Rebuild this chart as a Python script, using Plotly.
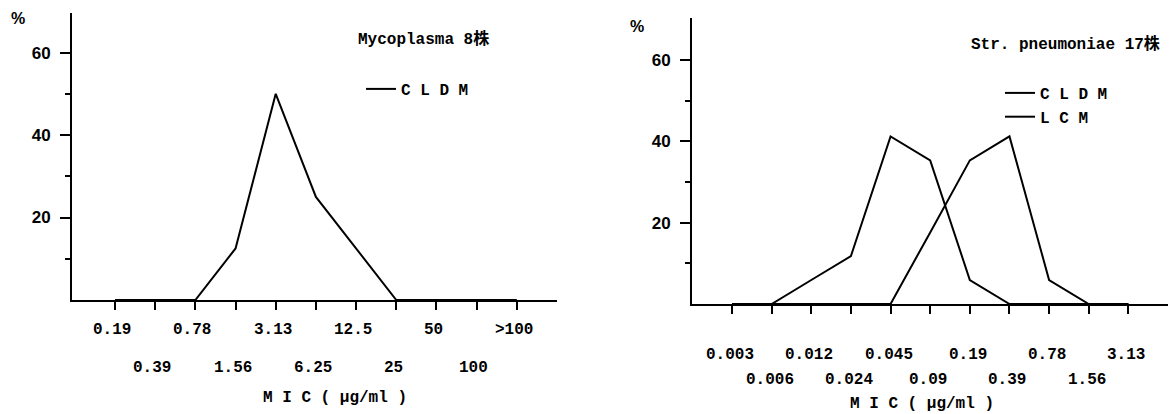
import plotly.graph_objects as go

# ---- data ----
left_cats = ["0.19", "0.39", "0.78", "1.56", "3.13", "6.25", "12.5", "25", "50", "100", ">100"]
left_cldm = [0, 0, 0, 12.5, 50, 25, 12.5, 0, 0, 0, 0]

right_cats = ["0.003", "0.006", "0.012", "0.024", "0.045", "0.09", "0.19", "0.39", "0.78", "1.56", "3.13"]
right_cldm = [0, 0, 5.9, 11.8, 41.2, 35.3, 5.9, 0, 0, 0, 0]
right_lcm = [0, 0, 0, 0, 0, 17.6, 35.3, 41.2, 5.9, 0, 0]

y_major = [20, 40, 60]
y_minor = [10, 30, 50]

left_title = "Mycoplasma 8株"
right_title = "Str. pneumoniae 17株"
x_title = "M I C ( μg/ml )"
y_unit = "%"
name_cldm = "C L D M"
name_lcm = "L C M"

W, H = 1171, 414
MONO = "Liberation Mono, Courier New, Noto Sans CJK JP, monospace"
SANS = "Liberation Sans, Arial, sans-serif"


def py(pix):
    return 1 - pix / H


fig = go.Figure()
line = dict(color="black", width=2)
fig.add_trace(go.Scatter(x=left_cats, y=left_cldm, mode="lines", line=line,
                         name=name_cldm, xaxis="x", yaxis="y", legend="legend"))
fig.add_trace(go.Scatter(x=right_cats, y=right_cldm, mode="lines", line=line,
                         name=name_cldm, xaxis="x2", yaxis="y2", legend="legend2"))
fig.add_trace(go.Scatter(x=right_cats, y=right_lcm, mode="lines", line=line,
                         name=name_lcm, xaxis="x2", yaxis="y2", legend="legend2"))

xcommon = dict(type="category", showline=True, linewidth=2, linecolor="black",
               ticks="outside", ticklen=8, tickwidth=1.5, tickcolor="black",
               showticklabels=False, showgrid=False, zeroline=False, fixedrange=True)
ycommon = dict(showline=True, linewidth=2, linecolor="black",
               tickmode="array", tickvals=y_major, ticks="outside", ticklen=10,
               tickwidth=2, tickcolor="black", ticklabelstandoff=6,
               tickfont=dict(family=SANS, size=17, color="black", weight="bold"),
               minor=dict(tickmode="array", tickvals=y_minor, ticks="outside",
                          ticklen=5, tickwidth=2, tickcolor="black"),
               showgrid=False, zeroline=False, fixedrange=True)

fig.update_layout(
    width=W, height=H,
    margin=dict(l=0, r=0, t=0, b=0),
    paper_bgcolor="white", plot_bgcolor="white",
    xaxis=dict(xcommon, domain=[72 / W, 557 / W], range=[-1.07, 11.0],
               categoryorder="array", categoryarray=left_cats),
    yaxis=dict(ycommon, domain=[py(300), py(13)], range=[0, 69.6]),
    xaxis2=dict(xcommon, domain=[692 / W, 1168 / W], range=[-1.01, 11.0],
                categoryorder="array", categoryarray=right_cats),
    yaxis2=dict(ycommon, domain=[py(304), py(18)], range=[0, 70.3], anchor="x2"),
    legend=dict(x=361 / W, y=py(89), xanchor="left", yanchor="middle",
                bgcolor="rgba(0,0,0,0)",
                font=dict(family=MONO, size=16, color="black", weight="bold")),
    legend2=dict(x=1000 / W, y=py(105), xanchor="left", yanchor="middle",
                 bgcolor="rgba(0,0,0,0)", tracegroupgap=0,
                 font=dict(family=MONO, size=16, color="black", weight="bold")),
    showlegend=True,
)
fig.layout.xaxis2.anchor = "y2"

ann = []
tfont = dict(family=MONO, size=16, color="black", weight="bold")
for i, c in enumerate(left_cats):
    ann.append(dict(x=i, y=py(330) if i % 2 == 0 else py(368), xref="x", yref="paper",
                    text=c, showarrow=False, font=tfont, xanchor="center", yanchor="middle",
                    xshift=-3))
for i, c in enumerate(right_cats):
    ann.append(dict(x=i, y=py(355) if i % 2 == 0 else py(380), xref="x2", yref="paper",
                    text=c, showarrow=False, font=tfont, xanchor="center", yanchor="middle",
                    xshift=-2))
ann += [
    dict(x=335 / W, y=py(398), xref="paper", yref="paper", text=x_title, showarrow=False,
         font=tfont, xanchor="center", yanchor="middle"),
    dict(x=922 / W, y=py(404), xref="paper", yref="paper", text=x_title, showarrow=False,
         font=tfont, xanchor="center", yanchor="middle"),
    dict(x=423 / W, y=py(40), xref="paper", yref="paper", text=left_title, showarrow=False,
         font=dict(family=MONO, size=16, color="black", weight="bold"), xanchor="center", yanchor="middle"),
    dict(x=1065 / W, y=py(44), xref="paper", yref="paper", text=right_title, showarrow=False,
         font=dict(family=MONO, size=16, color="black", weight="bold"), xanchor="center", yanchor="middle"),
    dict(x=18 / W, y=py(19), xref="paper", yref="paper", text=y_unit, showarrow=False,
         font=dict(family=SANS, size=16, color="black", weight="bold"), xanchor="center", yanchor="middle"),
    dict(x=637 / W, y=py(27), xref="paper", yref="paper", text=y_unit, showarrow=False,
         font=dict(family=SANS, size=16, color="black", weight="bold"), xanchor="center", yanchor="middle"),
]
fig.update_layout(annotations=ann)

fig.write_html("out.html", config={"displayModeBar": False},
               post_script="document.body.style.margin='0';document.body.style.overflow='hidden';")
